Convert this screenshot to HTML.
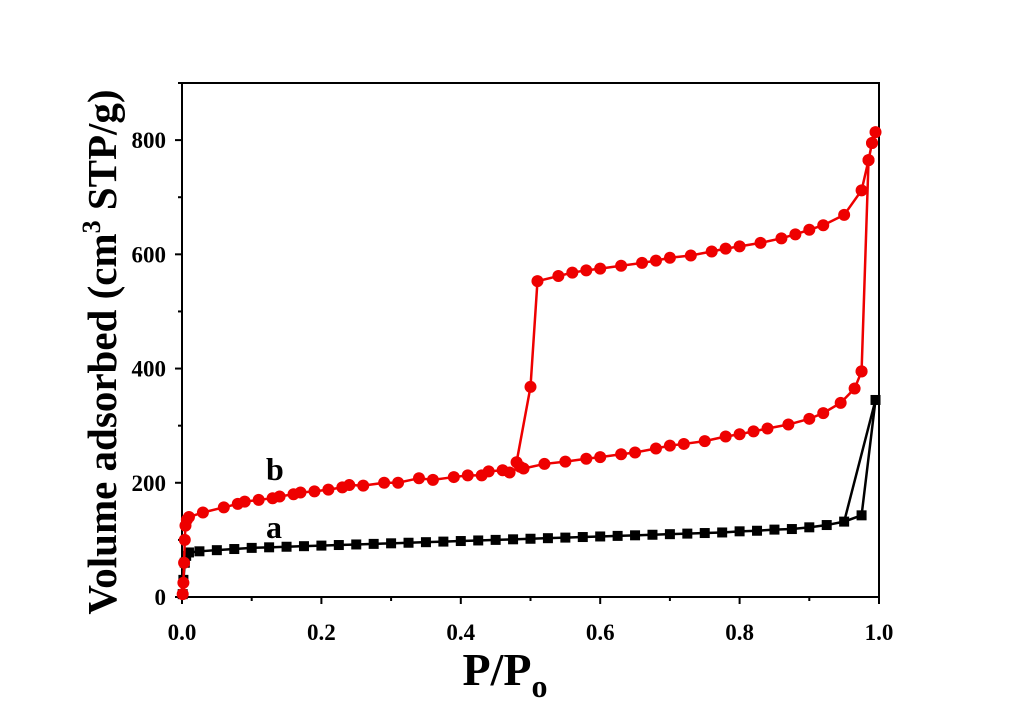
<!DOCTYPE html>
<html><head><meta charset="utf-8"><style>
html,body{margin:0;padding:0;background:#fff;}
svg{display:block;font-family:"Liberation Serif",serif;font-weight:bold;}
</style></head><body>
<svg id="chart" width="1024" height="715" viewBox="0 0 1024 715">
<rect x="182" y="83" width="697" height="514" fill="none" stroke="#000" stroke-width="2"/>
<g id="axes"></g>
<g id="series"></g>
<text x="266" y="480" font-size="32">b</text>
<text x="266" y="538" font-size="32">a</text>
<text x="505" y="685" font-size="46" text-anchor="middle">P/P<tspan font-size="32" dy="12">o</tspan></text>
<text transform="translate(116,352) rotate(-90)" font-size="41" text-anchor="middle">Volume adsorbed (cm<tspan font-size="26" dy="-16">3</tspan><tspan dy="16"> STP/g)</tspan></text>
</svg>
<script>
const xTicks=[0,0.2,0.4,0.6,0.8,1.0];
const xTickLabels=["0.0","0.2","0.4","0.6","0.8","1.0"];
const yTicks=[0,200,400,600,800];
const yTickLabels=["0","200","400","600","800"];
const aAdsX=[0.001,0.002,0.004,0.006,0.01,0.025,0.05,0.075,0.1,0.125,0.15,0.175,0.2,0.225,0.25,0.275,0.3,0.325,0.35,0.375,0.4,0.425,0.45,0.475,0.5,0.525,0.55,0.575,0.6,0.625,0.65,0.675,0.7,0.725,0.75,0.775,0.8,0.825,0.85,0.875,0.9,0.925,0.95,0.975,0.995];
const aAdsY=[5,30,60,72,78,80,82,84,86,87,88,89,90,91,92,93,94,95,96,97,98,99,100,101,102,103,104,105,106,107,108,109,110,111,112,113,115,116,118,119,122,126,132,143,345];
const aDesX=[0.995,0.95];
const aDesY=[345,132];
const bAdsX=[0.001,0.002,0.003,0.004,0.005,0.007,0.01,0.03,0.06,0.08,0.09,0.11,0.13,0.14,0.16,0.17,0.19,0.21,0.23,0.24,0.26,0.29,0.31,0.34,0.36,0.39,0.41,0.43,0.44,0.46,0.47,0.485,0.49,0.52,0.55,0.58,0.6,0.63,0.65,0.68,0.7,0.72,0.75,0.78,0.8,0.82,0.84,0.87,0.9,0.92,0.945,0.965,0.975];
const bAdsY=[5,25,60,100,125,135,140,148,157,163,167,170,173,176,180,183,185,188,192,196,195,200,200,208,205,210,213,213,220,222,218,228,225,233,237,242,245,250,253,260,265,268,273,281,285,290,295,302,312,322,340,365,395];
const bDesX=[0.975,0.985,0.99,0.995,0.99,0.985,0.975,0.95,0.92,0.9,0.88,0.86,0.83,0.8,0.78,0.76,0.73,0.7,0.68,0.66,0.63,0.6,0.58,0.56,0.54,0.51,0.5,0.48];
const bDesY=[395,765,795,814,795,765,712,669,651,643,635,628,620,614,610,605,598,594,589,585,580,575,572,568,562,553,368,236];
const X0=182,X1=879,Y0=597,Ypx=514/900;
const sx=v=>X0+v*(X1-X0), sy=v=>Y0-v*Ypx;
const NS="http://www.w3.org/2000/svg";
function mk(tag,attrs,parent){const e=document.createElementNS(NS,tag);for(const k in attrs)e.setAttribute(k,attrs[k]);parent.appendChild(e);return e;}
const axes=document.getElementById('axes'), ser=document.getElementById('series');
xTicks.forEach((t,i)=>{
 let l=mk('line',{x1:sx(t),x2:sx(t),y1:Y0,y2:Y0+7,stroke:'#000','stroke-width':2},axes);
 
 
 let tx=mk('text',{x:sx(t),y:640,'font-size':23,'text-anchor':'middle'},axes);tx.textContent=xTickLabels[i];
 
 
 if(i<xTicks.length-1){let m=mk('line',{x1:sx(t+0.1),x2:sx(t+0.1),y1:Y0,y2:Y0+4,stroke:'#000','stroke-width':2},axes);
 
 }
});
yTicks.forEach((t,i)=>{
 let l=mk('line',{x1:X0-7,x2:X0,y1:sy(t),y2:sy(t),stroke:'#000','stroke-width':2},axes);
 
 
 let tx=mk('text',{x:166,y:sy(t)+8,'font-size':23,'text-anchor':'end'},axes);tx.textContent=yTickLabels[i];
 
 
 let m=mk('line',{x1:X0-4,x2:X0,y1:sy(t+100),y2:sy(t+100),stroke:'#000','stroke-width':2},axes);
 
 
});
function line(xs,ys,color,name){
 const p=mk('polyline',{points:xs.map((x,i)=>sx(x)+','+sy(ys[i])).join(' '),fill:'none',stroke:color,'stroke-width':2.5},ser);
 
 
}
function marks(xs,ys,color,shape,name){
 xs.forEach((x,i)=>{let e;
  if(shape==='c')e=mk('circle',{cx:sx(x),cy:sy(ys[i]),r:6,fill:color},ser);
  else e=mk('rect',{x:sx(x)-5,y:sy(ys[i])-5,width:10,height:10,fill:color},ser);
  
  
 });
}
line(aAdsX,aAdsY,'#000','series-a-adsorption-line');
line(aDesX,aDesY,'#000','series-a-desorption-line');
marks(aAdsX,aAdsY,'#000','s','series-a-point');
line(bAdsX,bAdsY,'#e00','series-b-adsorption-line');
line(bDesX,bDesY,'#e00','series-b-desorption-line');
marks(bAdsX,bAdsY,'#e00','c','series-b-point');
marks(bDesX,bDesY,'#e00','c','series-b-point');
</script>
</body></html>
